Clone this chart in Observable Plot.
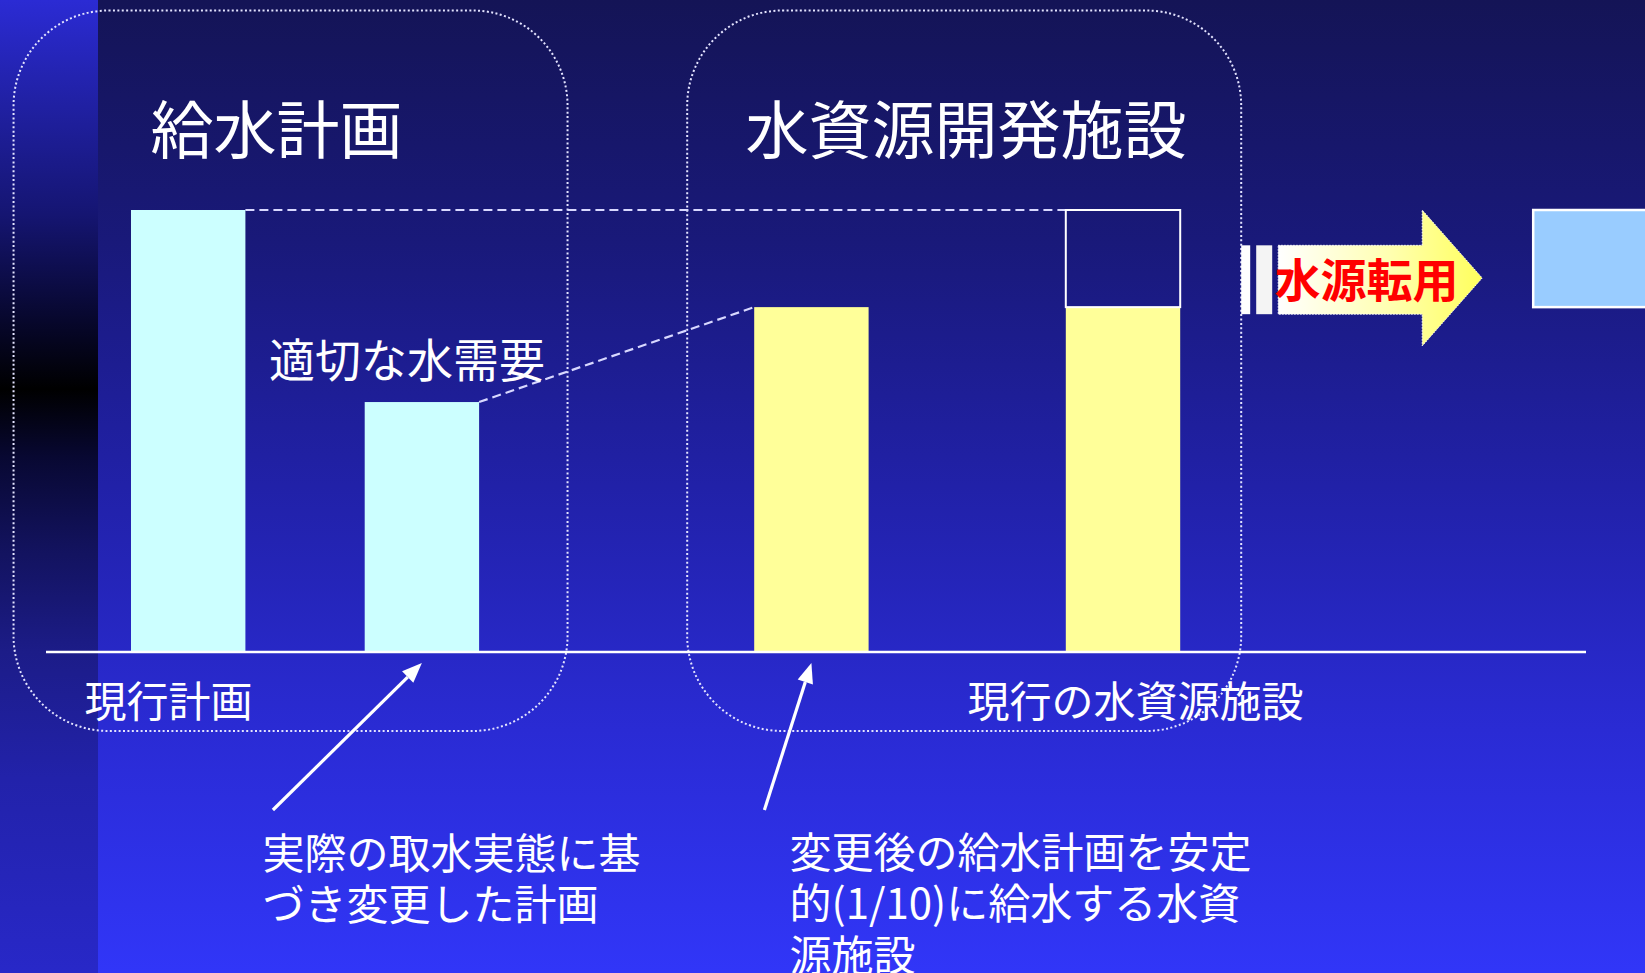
<!DOCTYPE html>
<html lang="ja">
<head>
<meta charset="utf-8">
<script src="https://cdn.jsdelivr.net/npm/d3@7"></script>
<script src="https://cdn.jsdelivr.net/npm/@observablehq/plot@0.6"></script>
<style>
  html, body { margin: 0; padding: 0; overflow: hidden; background: #1a1a70; }
  #slide {
    position: relative; width: 1645px; height: 973px; overflow: hidden;
    background: linear-gradient(to bottom, #141456 0%, #19197a 25%, #2121a8 50%, #2a2bd4 75%, #3136f8 100%);
  }
  #strip {
    position: absolute; left: 0; top: 0; width: 98px; height: 973px;
    background: linear-gradient(to bottom, #2b2bd4 0%, #2121a6 10%, #151572 22%, #07072c 33%, #000000 40%,
      #080832 47%, #12125c 56%, #1c1c88 67%, #2222aa 80%, #2828c8 100%);
  }
  #chart { position: absolute; left: 0; top: 0; }
</style>
</head>
<body>
<div id="slide"><div id="strip"></div><div id="chart"></div></div>
<script>
// ---- data ----
const planCategories = ["現行計画", "変更後計画"];
const planValues = [100, 56.5];
const facilityCategories = ["必要施設", "現行施設"];
const facilityValues = [78, 78];        // yellow (stable supply) part
const facilityCapacity = [78, 100];     // total capacity of each facility
const divertedCategory = "転用先";

const titleLabels = ["給水計画", "水資源開発施設"];
const baseLabels = ["現行計画", "現行の水資源施設"];
const demandLabel = "適切な水需要";
const noteLabels = ["実際の取水実態に基\nづき変更した計画", "変更後の給水計画を安定\n的(1/10)に給水する水資\n源施設"];
const transferLabel = "水源転用";

// ---- layout (not data) ----
const slotOf = {"現行計画": 0, "変更後計画": 3, "必要施設": 8, "現行施設": 12, "転用先": 18};
const nSlots = 19;
const xRange = [149.25, 1629.35];
const barWidth = 114.4;
const step = (xRange[1] - xRange[0]) / nSlots;
const barInset = (step - barWidth) / 2;
const xDomain = d3.range(nSlots).map(i => {
  const name = Object.keys(slotOf).find(k => slotOf[k] === i);
  return name ?? `·${i}`;
});
const font = "'Noto Sans CJK JP', 'Noto Sans CJK SC', sans-serif";

// ---- derived tables ----
const segments = [
  ...planCategories.map((c, i) => ({cat: c, y1: 0, y2: planValues[i], kind: "plan"})),
  ...facilityCategories.map((c, i) => ({cat: c, y1: 0, y2: facilityValues[i], kind: "facility"})),
];
const surplus = facilityCategories
  .map((c, i) => ({cat: c, y1: facilityValues[i], y2: facilityCapacity[i]}))
  .filter(d => d.y2 > d.y1);
const diverted = surplus.map(d => ({cat: divertedCategory, y1: d.y1, y2: d.y2}));

const center = (scales, cat) => scales.x(cat) + scales.x.bandwidth() / 2;
const edge = (scales, cat, side) => center(scales, cat) + side * barWidth / 2;

// dotted rounded group boxes
function groupBoxes(index, scales) {
  const g = d3.create("svg:g").attr("fill", "none").attr("stroke", "#e4e4ff")
    .attr("stroke-width", 2).attr("stroke-dasharray", "2,2.4");
  const groups = [{cats: planCategories, shift: -14.5}, {cats: facilityCategories, shift: -3}];
  const top = scales.y(100) - 199.5, bottom = scales.y(0) + 79.5, w = 554;
  for (const {cats, shift} of groups) {
    const mid = (center(scales, cats[0]) + center(scales, cats[1])) / 2 + shift;
    g.append("rect").attr("x", mid - w / 2).attr("y", top).attr("width", w)
      .attr("height", bottom - top).attr("rx", 95).attr("ry", 95);
  }
  return g.node();
}

// dashed connectors between bar tops
function connectors(index, scales) {
  const y = scales.y;
  const segs = [
    [edge(scales, planCategories[0], 1), y(planValues[0]), edge(scales, facilityCategories[1], -1), y(facilityCapacity[1])],
    [edge(scales, planCategories[1], 1), y(planValues[1]), edge(scales, facilityCategories[0], -1), y(facilityValues[0])]
  ];
  const g = d3.create("svg:g").attr("fill", "none").attr("stroke", "#d8d8ff")
    .attr("stroke-width", 2.2).attr("stroke-dasharray", "9,5");
  for (const [x1, y1, x2, y2] of segs) {
    g.append("line").attr("x1", x1).attr("y1", y1).attr("x2", x2).attr("y2", y2);
  }
  return g.node();
}

// block arrow for 水源転用
function transferArrow(index, scales) {
  const y = scales.y;
  const s = edge(scales, facilityCategories[1], 1) + 61;
  const headTop = y(facilityCapacity[1]), headBot = y(69.2);
  const bodyTop = y(92), bodyBot = y(76.4), tipY = (headTop + headBot) / 2;
  const g = d3.create("svg:g");
  const grad = g.append("defs").append("linearGradient").attr("id", "arrowGrad");
  grad.append("stop").attr("offset", 0).attr("stop-color", "#ffffff");
  grad.append("stop").attr("offset", 0.55).attr("stop-color", "#ffffb0");
  grad.append("stop").attr("offset", 1).attr("stop-color", "#ffff5c");
  g.append("rect").attr("x", s).attr("y", bodyTop).attr("width", 9).attr("height", bodyBot - bodyTop).attr("fill", "#ffffff");
  g.append("rect").attr("x", s + 15).attr("y", bodyTop).attr("width", 16).attr("height", bodyBot - bodyTop).attr("fill", "#f4f4f4");
  const pts = [[s + 37, bodyTop], [s + 181, bodyTop], [s + 181, headTop], [s + 241, tipY],
               [s + 181, headBot], [s + 181, bodyBot], [s + 37, bodyBot]];
  g.append("polygon").attr("points", pts.map(p => p.join(",")).join(" "))
    .attr("fill", "url(#arrowGrad)").attr("stroke", "#ffffff").attr("stroke-width", 1)
    .attr("stroke-dasharray", "1.5,1.5");
  return g.node();
}

// white pointer arrows from notes to bars
function pointers(index, scales) {
  const tipY = scales.y(0) + 11.5;
  const targets = [{cat: planCategories[1], dx: -149}, {cat: facilityCategories[0], dx: -47}];
  const g = d3.create("svg:g").attr("stroke", "#ffffff").attr("fill", "#ffffff");
  for (const {cat, dx} of targets) {
    const x2 = center(scales, cat), y2 = tipY, x1 = x2 + dx, y1 = tipY + 147;
    const len = Math.hypot(x2 - x1, y2 - y1), ux = (x2 - x1) / len, uy = (y2 - y1) / len;
    const hl = 20, hw = 8;
    const bx = x2 - ux * hl, by = y2 - uy * hl;
    g.append("line").attr("x1", x1).attr("y1", y1).attr("x2", bx).attr("y2", by).attr("stroke-width", 3.2);
    g.append("polygon").attr("stroke", "none").attr("points",
      [[x2, y2], [bx - uy * hw, by + ux * hw], [bx + uy * hw, by - ux * hw]].map(p => p.join(",")).join(" "));
  }
  return g.node();
}

const label = (text, cat, value, dx, dy, opts = {}) =>
  Plot.text([0], {x: [cat], y: [value], text: [text], dx, dy, textAnchor: "start",
    fill: "white", fontSize: 42, ...opts});

const chart = Plot.plot({
  width: 1645,
  height: 973,
  marginLeft: 46,
  marginRight: 59,
  marginTop: 0,
  marginBottom: 0,
  style: {background: "transparent", overflow: "visible", fontFamily: font},
  x: {type: "band", domain: xDomain, range: xRange, padding: 0, round: false, axis: null},
  y: {domain: [0, 100], range: [651.5, 210], axis: null},
  marks: [
    groupBoxes,
    connectors,
    Plot.barY(segments, {x: "cat", y1: "y1", y2: "y2", insetLeft: barInset, insetRight: barInset,
      fill: d => d.kind === "plan" ? "#ccffff" : "#ffff99"}),
    Plot.barY(surplus, {x: "cat", y1: "y1", y2: "y2", insetLeft: barInset, insetRight: barInset,
      fill: "none", stroke: "#ffffff", strokeWidth: 2}),
    Plot.barY(diverted, {x: "cat", y1: "y1", y2: "y2", insetLeft: barInset, insetRight: barInset,
      fill: "#99ccff", stroke: "#ffffff", strokeWidth: 2.5}),
    Plot.ruleY([0], {stroke: "#ffffff", strokeWidth: 2.4}),
    transferArrow,
    label(titleLabels[0], planCategories[0], planValues[0], -38.2, -78, {fontSize: 63}),
    label(titleLabels[1], facilityCategories[0], facilityCapacity[1], -66.4, -78, {fontSize: 63}),
    label(demandLabel, planCategories[1], planValues[1], -153.3, -40, {fontSize: 46}),
    label(baseLabels[0], planCategories[0], 0, -104.2, 52),
    label(baseLabels[1], facilityCategories[1], 0, -156, 52),
    label(noteLabels[0], planCategories[1], 0, -159.9, 226, {lineHeight: 1.222}),
    label(noteLabels[1], facilityCategories[0], 0, -22.4, 251, {lineHeight: 1.222}),
    label(transferLabel, facilityCategories[1], facilityCapacity[1], 243, 71.8,
      {fontSize: 46, fill: "#ff0000", fontWeight: "bold", textAnchor: "middle"}),
    pointers
  ]
});
document.getElementById("chart").appendChild(chart);
</script>
</body>
</html>
